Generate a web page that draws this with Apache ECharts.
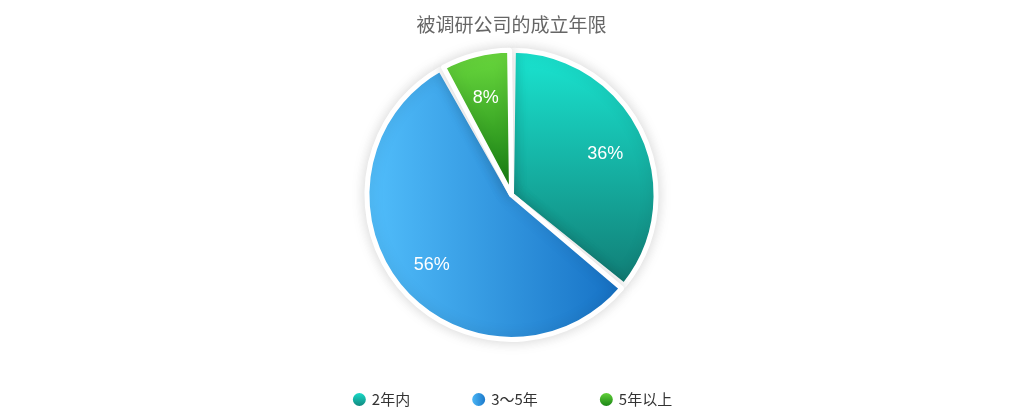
<!DOCTYPE html>
<html style="height: 100%">
<head>
    <meta charset="utf-8">
</head>
<body style="height: 100%; margin: 0; background: #fff">
<div id="container" style="height: 100%"></div>

<script type="text/javascript" src="https://cdn.jsdelivr.net/npm/echarts@6/dist/echarts.min.js"></script>
<script type="text/javascript">
    let titleText = '被调研公司的成立年限';
    let categories = ['2年内', '3～5年', '5年以上'];
    let values = [36, 56, 8];
    // top/left -> bottom/right gradient stops per slice
    let gradients = [
        [0, 0, 0, 1, '#1ae6d2', '#117c74'],
        [0, 0, 1, 0, '#52bffc', '#1570c4'],
        [0, 0, 0, 1, '#6ddc3f', '#107a10']
    ];

    var dom = document.getElementById("container");
    var myChart = echarts.init(dom);
    var option;

    function grad(g) {
        return new echarts.graphic.LinearGradient(g[0], g[1], g[2], g[3], [
            {offset: 0, color: g[4]},
            {offset: 1, color: g[5]}
        ]);
    }

    let pieData = categories.map(function (name, i) {
        return {name: name, value: values[i], itemStyle: {color: grad(gradients[i])}};
    });
    let labelData = categories.map(function (name, i) {
        return {name: name, value: values[i]};
    });

    option = {
        title: {
            text: titleText,
            left: 'center',
            top: 10,
            textStyle: {
                color: '#666',
                fontSize: 19,
                fontWeight: 'normal',
                fontFamily: 'Noto Sans CJK SC'
            }
        },
        legend: {
            bottom: 6,
            left: 'center',
            icon: 'circle',
            itemWidth: 15,
            itemHeight: 15,
            itemGap: 60,
            data: categories,
            textStyle: {color: '#333', fontSize: 15, fontFamily: 'Noto Sans CJK SC'}
        },
        series: [
            {
                type: 'pie',
                center: ['50%', '46.5%'],
                radius: ['0%', '69%'],
                startAngle: 90,
                padAngle: 1.5,
                label: {show: false},
                labelLine: {show: false},
                itemStyle: {
                    borderColor: '#fff',
                    borderWidth: 5,
                    shadowBlur: 14,
                    shadowColor: 'rgba(0, 0, 0, 0.15)'
                },
                emphasis: {scale: false},
                data: pieData
            },
            {
                // transparent ring used only to place the percentage labels
                type: 'pie',
                silent: true,
                center: ['50%', '47.4%'],
                radius: ['0%', '96%'],
                startAngle: 90,
                itemStyle: {color: 'rgba(0,0,0,0)'},
                label: {
                    show: true,
                    position: 'inside',
                    formatter: '{d}%',
                    color: '#fff',
                    fontSize: 18,
                    fontFamily: 'Liberation Sans'
                },
                labelLine: {show: false},
                data: labelData
            }
        ]
    };

    if (option && typeof option === 'object') {
        myChart.setOption(option);
    }
</script>
</body>
</html>
